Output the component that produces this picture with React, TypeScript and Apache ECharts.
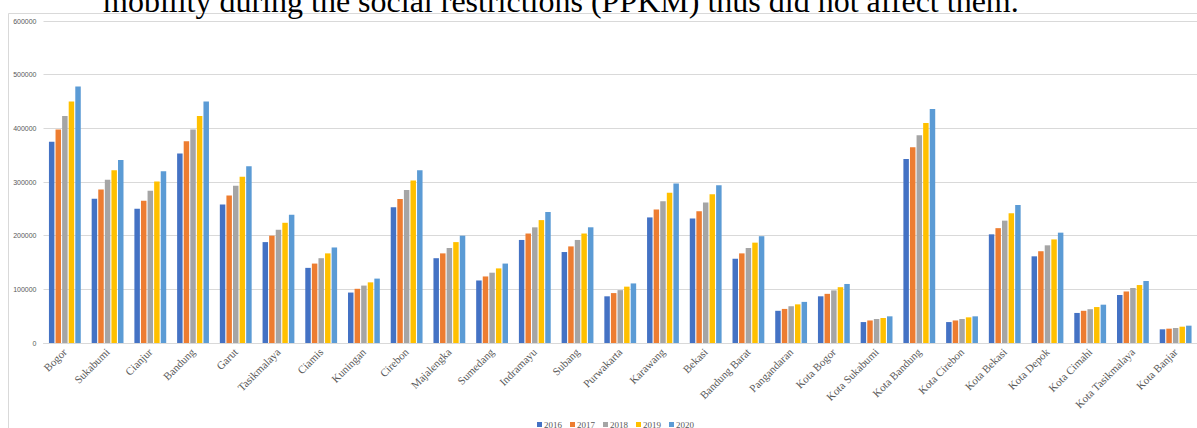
import React, { useEffect, useRef } from "react";
import * as echarts from "echarts";

const categories = ["Bogor","Sukabumi","Cianjur","Bandung","Garut","Tasikmalaya","Ciamis","Kuningan","Cirebon","Majalengka","Sumedang","Indramayu","Subang","Purwakarta","Karawang","Bekasi","Bandung Barat","Pangandaran","Kota Bogor","Kota Sukabumi","Kota Bandung","Kota Cirebon","Kota Bekasi","Kota Depok","Kota Cimahi","Kota Tasikmalaya","Kota Banjar"];

const years = ["2016", "2017", "2018", "2019", "2020"];

const v2016 = [375000, 268600, 250000, 353000, 258000, 188000, 140000, 94000, 253000, 158000, 116500, 192000, 169500, 87000, 234000, 232000, 157000, 60000, 87000, 39000, 343000, 39000, 202500, 161500, 56000, 89400, 25500];
const v2017 = [398000, 286000, 265000, 376000, 275000, 200000, 148000, 101000, 268500, 167000, 124000, 204000, 180000, 93000, 248600, 245500, 167000, 63500, 91600, 42000, 364600, 42000, 214000, 171000, 60000, 96000, 26700];
const v2018 = [423000, 304000, 283500, 398000, 293000, 211000, 158000, 107000, 285000, 177000, 131000, 215500, 192000, 98500, 264000, 261700, 177000, 68500, 98000, 44700, 387000, 44700, 228000, 182000, 63000, 102500, 28000];
const v2019 = [450000, 322000, 301000, 423000, 310000, 224000, 167000, 113000, 303000, 188000, 139000, 229000, 204000, 105000, 280000, 277000, 187000, 72000, 104000, 46600, 410000, 47800, 242000, 193000, 67000, 108000, 30400];
const v2020 = [478000, 341000, 320000, 450000, 329500, 239000, 178000, 120000, 322000, 200000, 148000, 244000, 215600, 111000, 297000, 294000, 199000, 76600, 110000, 49700, 436000, 49700, 257000, 205600, 71400, 115500, 32300];

const seriesValues = [v2016, v2017, v2018, v2019, v2020];
const colors = ["#4472C4", "#ED7D31", "#A5A5A5", "#FFC000", "#5B9BD5"];
const titleText = "mobility during the social restrictions (PPKM) thus did not affect them.";

export default function App() {
  const ref = useRef<HTMLDivElement>(null);
  useEffect(() => {
    const chart = echarts.init(ref.current!, null, { renderer: "svg" });
    chart.setOption({
      animation: false,
      backgroundColor: "#ffffff",
      color: colors,
      graphic: [
        {
          type: "rect",
          shape: { x: 8.5, y: 13.5, width: 1220, height: 500 },
          style: { fill: "none", stroke: "#d9d9d9", lineWidth: 1 },
          z: 0,
        },
        {
          type: "text",
          x: 103,
          y: 1,
          style: {
            text: titleText,
            fontFamily: "Liberation Serif",
            fontSize: 32,
            fill: "#000000",
            textAlign: "left",
            textVerticalAlign: "middle",
          },
          z: 10,
        },
      ],
      grid: { left: 43.5, right: -6.5, top: 21, bottom: 85, containLabel: false },
      legend: {
        data: years,
        left: 532,
        top: 415,
        itemWidth: 5,
        itemHeight: 5,
        itemGap: 8,
        icon: "rect",
        textStyle: { fontFamily: "Liberation Serif", fontSize: 9, color: "#595959", padding: [0, 0, 0, -3] },
      },
      xAxis: {
        type: "category",
        data: categories,
        axisLine: { show: true, lineStyle: { color: "#d9d9d9", width: 1 } },
        axisTick: { show: false },
        axisLabel: {
          interval: 0,
          rotate: 45,
          margin: 7,
          fontFamily: "Liberation Serif",
          fontSize: 11,
          color: "#595959",
        },
      },
      yAxis: {
        type: "value",
        min: 0,
        max: 600000,
        interval: 100000,
        axisLine: { show: false },
        axisTick: { show: false },
        splitLine: { lineStyle: { color: "#d9d9d9", width: 1 } },
        axisLabel: {
          margin: 7,
          fontFamily: "Liberation Sans",
          fontSize: 7,
          color: "#595959",
          formatter: (v: number) => String(v),
        },
      },
      series: years.map((y, i) => ({
        name: y,
        type: "bar",
        data: seriesValues[i],
        barGap: "20%",
        barCategoryGap: "25.5%",
        itemStyle: { color: colors[i] },
      })),
    });
    return () => chart.dispose();
  }, []);
  return (
    <div
      ref={ref}
      style={{ position: "absolute", left: 0, top: 0, width: 1197, height: 428, overflow: "hidden" }}
    />
  );
}
